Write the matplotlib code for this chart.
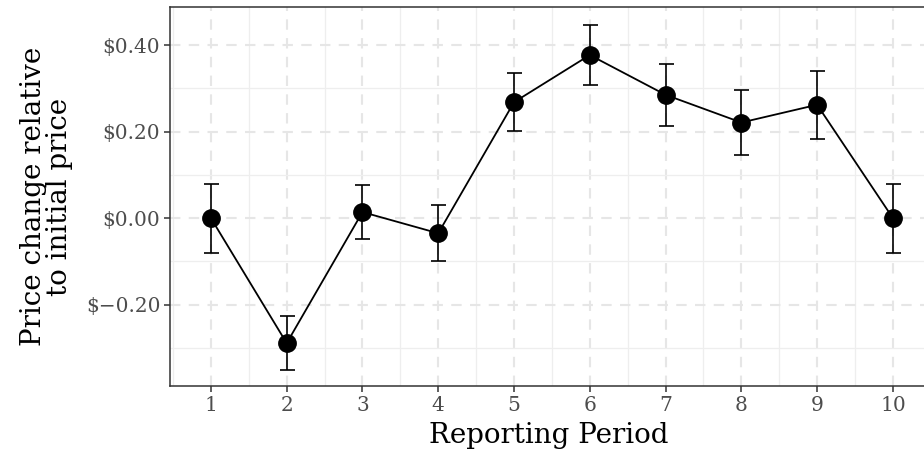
import numpy as np
import matplotlib
matplotlib.use("Agg")
import matplotlib.pyplot as plt
from matplotlib.ticker import FuncFormatter, MultipleLocator

# values
periods = [1, 2, 3, 4, 5, 6, 7, 8, 9, 10]
price_change = [0.0, -0.289, 0.014, -0.035, 0.268, 0.377, 0.285, 0.221, 0.262, 0.0]
error = [0.080, 0.062, 0.063, 0.065, 0.067, 0.070, 0.072, 0.075, 0.079, 0.080]

y_ticks = [-0.2, 0.0, 0.2, 0.4]

plt.rcParams['font.family'] = ['DejaVu Serif']

fig = plt.figure(figsize=(9.24, 4.57), dpi=100)
ax = fig.add_axes([170 / 924, 71 / 457, 757 / 924, 379 / 457])

# grid: dashed major, solid minor (ggplot theme_bw look)
ax.set_axisbelow(True)
ax.xaxis.set_minor_locator(MultipleLocator(0.5))
ax.yaxis.set_minor_locator(MultipleLocator(0.1))
ax.grid(which='major', color='#E6E6E6', linestyle=(0, (5, 4)), linewidth=1.5)
ax.grid(which='minor', color='#EEEEEE', linestyle='-', linewidth=0.9)

ax.errorbar(periods, price_change, yerr=error, color='black', ecolor='black',
            linewidth=1.3, elinewidth=1.2, capsize=5.4, capthick=1.2,
            marker='o', markersize=12.5, zorder=3)

ax.set_xticks(periods)
ax.set_yticks(y_ticks)
ax.yaxis.set_major_formatter(FuncFormatter(
    lambda v, p: '$' + format(v, '.2f').replace('-', '\u2212')))
ax.set_xlim(0.46, 10.45)
ax.set_ylim(-0.388, 0.488)

for s in ax.spines.values():
    s.set_color('#333333')
    s.set_linewidth(1.1)

ax.tick_params(which='major', length=4, width=1.1, color='#333333',
               labelcolor='#4D4D4D', labelsize=14.5)
ax.tick_params(which='minor', length=0)
ax.tick_params(axis='x', pad=3)
ax.tick_params(axis='y', pad=3)

ax.set_xlabel('Reporting Period', fontsize=20, labelpad=5)
ax.set_ylabel('Price change relative\nto initial price', fontsize=20,
              labelpad=9, linespacing=0.95)

fig.savefig('out.png', dpi=100)
